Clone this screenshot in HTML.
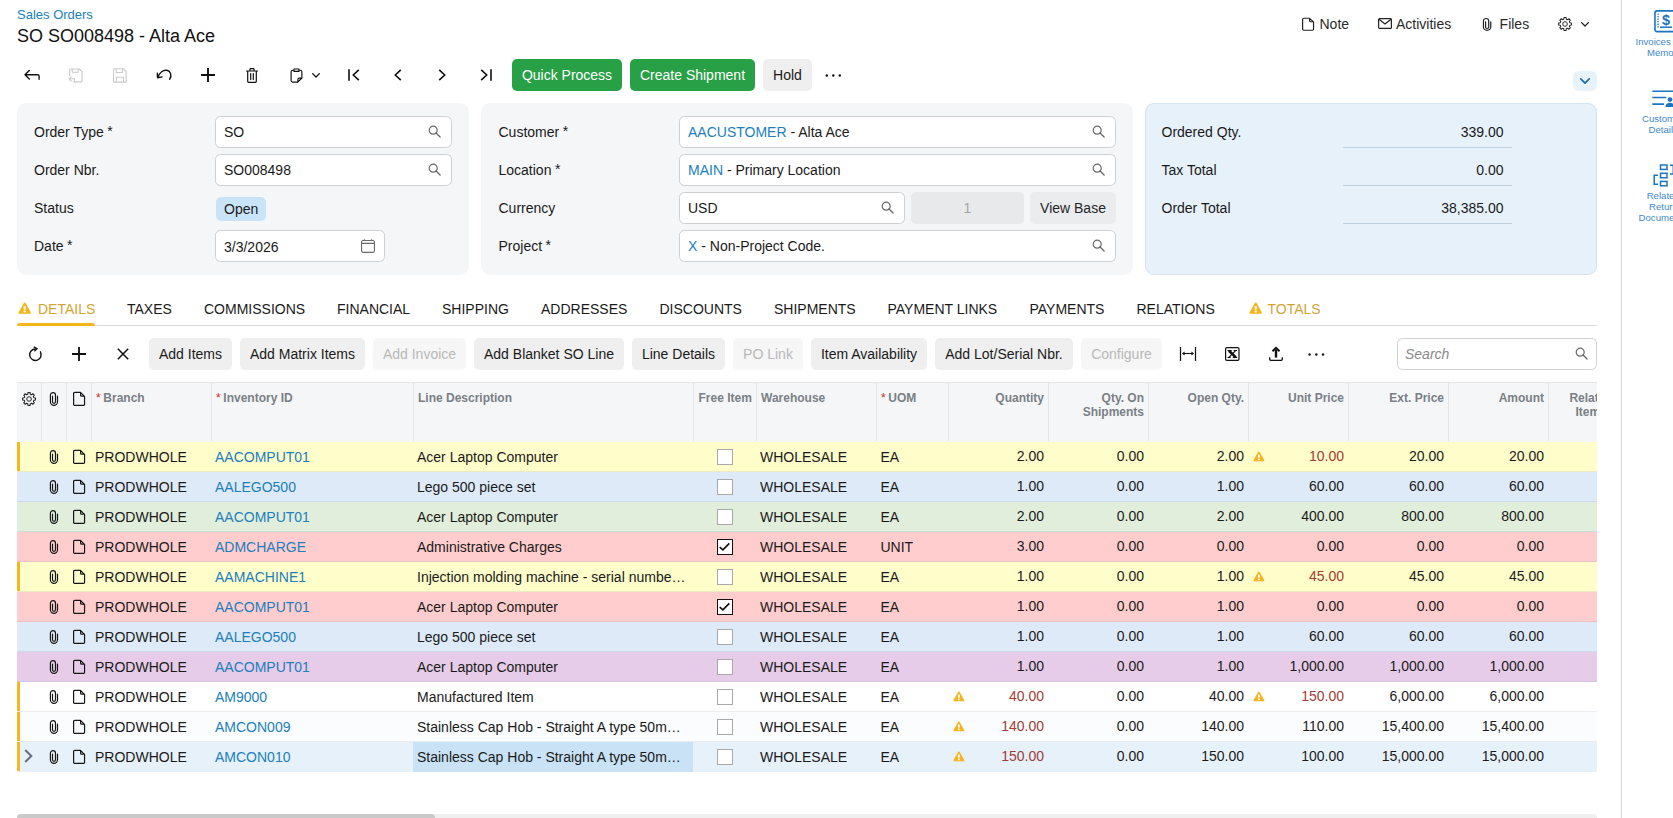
<!DOCTYPE html>
<html><head><meta charset="utf-8"><title>Sales Orders</title>
<style>
*{box-sizing:border-box;margin:0;padding:0}
html,body{width:1673px;height:818px;overflow:hidden;background:#fff}
body{position:relative;font-family:"Liberation Sans",sans-serif;font-size:14px;color:#1a1a1a}
.a{position:absolute;white-space:nowrap}
.ic{position:absolute;overflow:visible}
.t{position:absolute;white-space:nowrap;line-height:16px}
.lnk{color:#207fbc}
.panel{position:absolute;background:#f5f6f8;border-radius:9px}
.inp{position:absolute;background:#fff;border:1px solid #cdd0d4;border-radius:5.500px;height:32px;line-height:30px;padding-left:8px;white-space:nowrap}
.lbl{position:absolute;white-space:nowrap;line-height:16px;color:#1a1a1a}
.btn{position:absolute;height:32px;line-height:32px;border-radius:5px;background:#efefef;text-align:center;white-space:nowrap;color:#1a1a1a}
.btn.g{background:#28a046;color:#fff}
.btn.d{background:#f6f6f6;color:#b9b9b9}
.tab{position:absolute;top:301px;line-height:16px;white-space:nowrap;color:#1a1a1a}
.hd{position:absolute;top:382px;height:60px;background:#f5f6f8;border-top:1px solid #e4e5e7}
.hs{position:absolute;top:383px;height:58px;width:1px;background:#e2e4e7}
.ht{position:absolute;top:391px;font-size:12px;font-weight:bold;color:#7a7f86;line-height:14px;white-space:nowrap}
.ht i{font-style:normal;font-weight:normal;color:#d9261c;margin-right:2.700px}
.row{position:absolute;left:17px;width:1580px;height:30px}
.row:after{content:"";position:absolute;left:0;right:0;bottom:0;height:1px;background:rgba(40,60,120,.085)}
.row.last:after{display:none}
.stripe{position:absolute;left:0;top:0;width:3px;height:29px;background:#f3b71f}
.c{position:absolute;top:0;line-height:30px;white-space:nowrap}
.n{position:absolute;top:-1px;line-height:30px;white-space:nowrap;text-align:right}
.red{color:#9f3c35}
.cb{position:absolute;left:699.5px;top:7px;width:16px;height:16px;background:#fff;border:1px solid #a9a9a9}
.sb{position:absolute;font-size:9.600px;line-height:11px;color:#4189cb;white-space:nowrap}
</style></head><body>

<div class="t lnk" style="left:17px;top:7.200px;font-size:13px">Sales Orders</div>
<div class="t" style="left:17px;top:25px;font-size:18px;line-height:22px;color:#111">SO SO008498 - Alta Ace</div>
<svg class="ic" style="left:1300.900px;top:16.870px" width="14" height="14.650" viewBox="0 0 14 16" preserveAspectRatio="none"><path d="M2.800 1.400H8.500L12.550 5.400V13.200a1.200 1.200 0 0 1-1.200 1.200H2.800a1.200 1.200 0 0 1-1.200-1.200V2.600a1.200 1.200 0 0 1 1.200-1.200zM8.600 1.600V4.200a1 1 0 0 0 1 1H12.400" fill="none" stroke="#222" stroke-width="1.200" stroke-linejoin="round"/></svg>
<div class="t" style="left:1319.500px;top:16px;color:#2a2a2a">Note</div>
<svg class="ic" style="left:1378px;top:18px" width="14" height="11" viewBox="0 0 14 11"><rect x=".6" y=".6" width="12.800" height="9.800" rx="1" fill="none" stroke="#222" stroke-width="1.200"/><path d="M1 1.200l6 4.800 6-4.800" fill="none" stroke="#222" stroke-width="1.200" stroke-linejoin="round"/></svg>
<div class="t" style="left:1396px;top:16px;color:#2a2a2a">Activities</div>
<svg class="ic" style="left:1482.400px;top:16.670px" width="10.300" height="14.960" viewBox="0 0 10 16" preserveAspectRatio="none"><path d="M8.500 5.060V10.750A3.550 3.550 0 0 1 1.400 10.750V4.150A2.550 2.550 0 0 1 6.500 4.150V10.800A1.500 1.500 0 0 1 3.500 10.800V5.060" fill="none" stroke="#222" stroke-width="1.200" stroke-linecap="round"/></svg>
<div class="t" style="left:1499.600px;top:16px;color:#2a2a2a">Files</div>
<svg class="ic" style="left:1557.7px;top:17.1px" width="14" height="14" viewBox="0 0 14 14"><path d="M5.77 2.22L5.99 0.64A6.45 6.45 0 0 1 8.11 0.64L8.33 2.22A4.95 4.95 0 0 1 9.53 2.71L10.80 1.75A6.45 6.45 0 0 1 12.30 3.25L11.34 4.53A4.95 4.95 0 0 1 11.83 5.72L13.41 5.94A6.45 6.45 0 0 1 13.41 8.06L11.83 8.28A4.95 4.95 0 0 1 11.34 9.47L12.30 10.75A6.45 6.45 0 0 1 10.80 12.25L9.53 11.29A4.95 4.95 0 0 1 8.33 11.78L8.11 13.36A6.45 6.45 0 0 1 5.99 13.36L5.77 11.78A4.95 4.95 0 0 1 4.58 11.29L3.30 12.25A6.45 6.45 0 0 1 1.80 10.75L2.76 9.47A4.95 4.95 0 0 1 2.27 8.28L0.69 8.06A6.45 6.45 0 0 1 0.69 5.94L2.27 5.72A4.95 4.95 0 0 1 2.76 4.52L1.80 3.25A6.45 6.45 0 0 1 3.30 1.75L4.57 2.71A4.95 4.95 0 0 1 5.77 2.22z" fill="none" stroke="#2a2a2a" stroke-width="1.1" stroke-linejoin="round"/><circle cx="7.050" cy="7" r="2.300" fill="none" stroke="#2a2a2a" stroke-width="1"/></svg>
<svg class="ic" style="left:1581px;top:22px" width="8" height="5" viewBox="0 0 8 5"><path d="M.6.600L4 4l3.400-3.400" fill="none" stroke="#222" stroke-width="1.300" stroke-linecap="round" stroke-linejoin="round"/></svg>
<div class="a" style="left:1573px;top:71px;width:24px;height:20px;background:#e8f2fa;border-radius:6px"></div>
<svg class="ic" style="left:1580px;top:78px" width="10" height="6" viewBox="0 0 10 6"><path d="M.8.800L5 5.100l4.200-4.300" fill="none" stroke="#1d6ba8" stroke-width="1.700" stroke-linecap="round" stroke-linejoin="round"/></svg>
<svg class="ic" style="left:24px;top:69px" width="16" height="12" viewBox="0 0 16 12"><path d="M5.300 1.400L1 5.700l4.300 4.300M1.200 5.700h12.300a1.600 1.600 0 0 1 1.600 1.600V10.200" fill="none" stroke="#111" stroke-width="1.350" stroke-linecap="round" stroke-linejoin="round"/></svg>
<svg class="ic" style="left:68px;top:68px" width="15" height="15" viewBox="0 0 15 15"><path d="M5.500 13.900H13.200a.8.800 0 0 0 .8-.8V3.700L11.300 1H2.600a.8.800 0 0 0-.8.800V7.500M4.300 1v3.300h5.800V1M1 10.800h5.500M3.200 8.600L1 10.800 3.200 13M6.500 10.800v2" fill="none" stroke="#c9c9c9" stroke-width="1.100" stroke-linejoin="round" stroke-linecap="round"/></svg>
<svg class="ic" style="left:113px;top:68px" width="14" height="15" viewBox="0 0 14 15"><path d="M1.300.800H10.500L13.200 3.500V13.400a.7.700 0 0 1-.7.700H1.300a.7.700 0 0 1-.7-.7V1.500a.7.700 0 0 1 .7-.7zM3.300 1v3.500h6V1M3.300 14V9.300h7.200V14" fill="none" stroke="#c9c9c9" stroke-width="1.100" stroke-linejoin="round"/></svg>
<svg class="ic" style="left:156px;top:68px" width="17" height="13" viewBox="0 0 17 13"><path d="M1.300 5.300L1.600 9.800 6 8.900M2 9.300C3.600 4.300 7.200 1.700 10.800 2.300 14.600 3 16.300 7.500 13.600 11.300" fill="none" stroke="#111" stroke-width="1.400" stroke-linecap="round" stroke-linejoin="round"/></svg>
<svg class="ic" style="left:201px;top:68px" width="14" height="14" viewBox="0 0 14 14"><path d="M7 0v14M0 7h14" stroke="#111" stroke-width="1.900"/></svg>
<svg class="ic" style="left:246px;top:68px" width="12" height="15" viewBox="0 0 12 15"><path d="M.5 3h11M4 2.800V1.300a.6.600 0 0 1 .6-.6h2.800a.6.600 0 0 1 .6.600V2.800M1.700 3.200v10a1.200 1.200 0 0 0 1.200 1.200h6.200a1.200 1.200 0 0 0 1.200-1.200v-10M4.700 5.600v6M7.300 5.600v6" fill="none" stroke="#111" stroke-width="1.200" stroke-linecap="round" stroke-linejoin="round"/></svg>
<svg class="ic" style="left:290px;top:68px" width="13" height="15" viewBox="0 0 13 15"><path d="M3.800 2.200H2.600A1.500 1.500 0 0 0 1.100 3.700v8.900a1.500 1.500 0 0 0 1.500 1.500h5.200l4.100-4.100V3.700a1.500 1.500 0 0 0-1.500-1.500H9.200M4 1h5v2.400H4zM7.900 14v-2.600a1.300 1.300 0 0 1 1.300-1.300h2.600" fill="none" stroke="#111" stroke-width="1.150" stroke-linejoin="round"/></svg>
<svg class="ic" style="left:312px;top:73px" width="8" height="5" viewBox="0 0 8 5"><path d="M.6.600L4 4l3.400-3.400" fill="none" stroke="#111" stroke-width="1.300" stroke-linecap="round" stroke-linejoin="round"/></svg>
<svg class="ic" style="left:348px;top:69px" width="12" height="12" viewBox="0 0 12 12"><path d="M1 .3v11.400M10.800.8L5.300 6l5.500 5.200" fill="none" stroke="#111" stroke-width="1.600" stroke-linejoin="miter"/></svg>
<svg class="ic" style="left:394px;top:69px" width="8" height="12" viewBox="0 0 8 12"><path d="M6.800.8L1.300 6l5.500 5.200" fill="none" stroke="#111" stroke-width="1.600"/></svg>
<svg class="ic" style="left:438px;top:69px" width="8" height="12" viewBox="0 0 8 12"><path d="M1.200.8L6.700 6l-5.500 5.200" fill="none" stroke="#111" stroke-width="1.600"/></svg>
<svg class="ic" style="left:480px;top:69px" width="12" height="12" viewBox="0 0 12 12"><path d="M11 .3v11.400M1.200.8L6.700 6l-5.500 5.200" fill="none" stroke="#111" stroke-width="1.600"/></svg>
<div class="btn g" style="left:512px;top:59px;width:110px">Quick Process</div>
<div class="btn g" style="left:630px;top:59px;width:125px">Create Shipment</div>
<div class="btn" style="left:763px;top:59px;width:49px">Hold</div>
<svg class="ic" style="left:825px;top:74px" width="17" height="3" viewBox="0 0 17 3"><circle cx="1.800" cy="1.500" r="1.200" fill="#111"/><circle cx="8.300" cy="1.500" r="1.200" fill="#111"/><circle cx="14.800" cy="1.500" r="1.200" fill="#111"/></svg>
<div class="panel" style="left:17px;top:103px;width:452px;height:172px"></div>
<div class="panel" style="left:481px;top:103px;width:652px;height:172px"></div>
<div class="panel" style="left:1145px;top:103px;width:452px;height:172px;background:#e6f1fa;border:1px solid #d3e4f2"></div>
<div class="lbl" style="left:34px;top:124px">Order Type <span style="position:relative;top:-1.500px;left:-.4px">*</span></div>
<div class="lbl" style="left:34px;top:162px">Order Nbr.</div>
<div class="lbl" style="left:34px;top:200px">Status</div>
<div class="lbl" style="left:34px;top:238px">Date <span style="position:relative;top:-1.500px;left:-.4px">*</span></div>
<div class="inp" style="left:215px;top:116px;width:237px">SO</div>
<svg class="ic" style="left:428.3px;top:125.2px" width="14" height="14" viewBox="0 0 14 14"><circle cx="5.200" cy="5.200" r="4" fill="none" stroke="#6a6a6a" stroke-width="1.200"/><path d="M8.100 8.100l4 4" stroke="#6a6a6a" stroke-width="1.350" stroke-linecap="round"/></svg>
<div class="inp" style="left:215px;top:154px;width:237px">SO008498</div>
<svg class="ic" style="left:428.3px;top:163.2px" width="14" height="14" viewBox="0 0 14 14"><circle cx="5.200" cy="5.200" r="4" fill="none" stroke="#6a6a6a" stroke-width="1.200"/><path d="M8.100 8.100l4 4" stroke="#6a6a6a" stroke-width="1.350" stroke-linecap="round"/></svg>
<div class="a" style="left:216px;top:197px;width:50px;height:24px;line-height:24px;background:#c9e4f8;border-radius:5px;padding-left:8px">Open</div>
<div class="inp" style="left:215px;top:230px;width:170px;line-height:32px">3/3/2026</div>
<svg class="ic" style="left:361px;top:239px" width="14" height="14" viewBox="0 0 14 14"><rect x=".55" y="1.500" width="12.900" height="11.900" rx="1.600" fill="none" stroke="#686868" stroke-width="1.100"/><path d="M.8 4.400h12.400M3.500 .2v1.300M10.500 .2v1.300" stroke="#686868" stroke-width="1.100" fill="none"/></svg>
<div class="lbl" style="left:498.5px;top:124px">Customer <span style="position:relative;top:-1.500px;left:-.4px">*</span></div>
<div class="lbl" style="left:498.5px;top:162px">Location <span style="position:relative;top:-1.500px;left:-.4px">*</span></div>
<div class="lbl" style="left:498.5px;top:200px">Currency</div>
<div class="lbl" style="left:498.5px;top:238px">Project <span style="position:relative;top:-1.500px;left:-.4px">*</span></div>
<div class="inp" style="left:679px;top:116px;width:437px"><span class="lnk">AACUSTOMER</span> - Alta Ace</div>
<svg class="ic" style="left:1092.3px;top:125.2px" width="14" height="14" viewBox="0 0 14 14"><circle cx="5.200" cy="5.200" r="4" fill="none" stroke="#6a6a6a" stroke-width="1.200"/><path d="M8.100 8.100l4 4" stroke="#6a6a6a" stroke-width="1.350" stroke-linecap="round"/></svg>
<div class="inp" style="left:679px;top:154px;width:437px"><span class="lnk">MAIN</span> - Primary Location</div>
<svg class="ic" style="left:1092.3px;top:163.2px" width="14" height="14" viewBox="0 0 14 14"><circle cx="5.200" cy="5.200" r="4" fill="none" stroke="#6a6a6a" stroke-width="1.200"/><path d="M8.100 8.100l4 4" stroke="#6a6a6a" stroke-width="1.350" stroke-linecap="round"/></svg>
<div class="inp" style="left:679px;top:192px;width:226px">USD</div>
<svg class="ic" style="left:881.3px;top:201.2px" width="14" height="14" viewBox="0 0 14 14"><circle cx="5.200" cy="5.200" r="4" fill="none" stroke="#6a6a6a" stroke-width="1.200"/><path d="M8.100 8.100l4 4" stroke="#6a6a6a" stroke-width="1.350" stroke-linecap="round"/></svg>
<div class="a" style="left:911px;top:192px;width:113px;height:32px;line-height:32px;background:#e8e9ea;border-radius:5px;text-align:center;color:#a4a4a4">1</div>
<div class="btn" style="left:1030px;top:192px;width:86px;background:#ebecee;color:#262626">View Base</div>
<div class="inp" style="left:679px;top:230px;width:437px"><span class="lnk">X</span> - Non-Project Code.</div>
<svg class="ic" style="left:1092.3px;top:239.2px" width="14" height="14" viewBox="0 0 14 14"><circle cx="5.200" cy="5.200" r="4" fill="none" stroke="#6a6a6a" stroke-width="1.200"/><path d="M8.100 8.100l4 4" stroke="#6a6a6a" stroke-width="1.350" stroke-linecap="round"/></svg>
<div class="lbl" style="left:1161.5px;top:124px">Ordered Qty.</div>
<div class="lbl" style="left:1343px;top:124px;width:160.500px;text-align:right">339.00</div>
<div class="a" style="left:1343px;top:147px;width:169px;height:1px;background:#bfd0de"></div>
<div class="lbl" style="left:1161.5px;top:162px">Tax Total</div>
<div class="lbl" style="left:1343px;top:162px;width:160.500px;text-align:right">0.00</div>
<div class="a" style="left:1343px;top:185px;width:169px;height:1px;background:#bfd0de"></div>
<div class="lbl" style="left:1161.5px;top:200px">Order Total</div>
<div class="lbl" style="left:1343px;top:200px;width:160.500px;text-align:right">38,385.00</div>
<div class="a" style="left:1343px;top:223px;width:169px;height:1px;background:#bfd0de"></div>
<div class="a" style="left:17px;top:325px;width:1580px;height:1px;background:#dcdcdc"></div>
<div class="a" style="left:17px;top:323px;width:78px;height:3px;background:#f3b41c;border-radius:3px 3px 0 0"></div>
<svg class="ic" style="left:18.2px;top:301.8px" width="13.4" height="12.3" viewBox="0 0 12 11"><path d="M6 .4c.35 0 .6.2.8.5l4.6 8.2c.35.65-.1 1.4-.8 1.4H1.400c-.7 0-1.150-.75-.8-1.400L5.200.900c.2-.3.45-.5.8-.5z" fill="#f5b31c"/><rect x="5.050" y="3.600" width="1.900" height="3.200" rx=".4" fill="#fff"/><rect x="5.050" y="7.600" width="1.900" height="1.700" rx=".5" fill="#fff"/></svg>
<div class="tab" style="left:38px;color:#d3a433">DETAILS</div>
<div class="tab" style="left:127px">TAXES</div>
<div class="tab" style="left:204px">COMMISSIONS</div>
<div class="tab" style="left:337px">FINANCIAL</div>
<div class="tab" style="left:442px">SHIPPING</div>
<div class="tab" style="left:541px">ADDRESSES</div>
<div class="tab" style="left:659.5px">DISCOUNTS</div>
<div class="tab" style="left:774px">SHIPMENTS</div>
<div class="tab" style="left:887.5px">PAYMENT LINKS</div>
<div class="tab" style="left:1029.5px">PAYMENTS</div>
<div class="tab" style="left:1136.5px">RELATIONS</div>
<svg class="ic" style="left:1248.7px;top:301.8px" width="13.4" height="12.3" viewBox="0 0 12 11"><path d="M6 .4c.35 0 .6.2.8.5l4.6 8.2c.35.65-.1 1.4-.8 1.4H1.400c-.7 0-1.150-.75-.8-1.400L5.200.900c.2-.3.45-.5.8-.5z" fill="#f5b31c"/><rect x="5.050" y="3.600" width="1.900" height="3.200" rx=".4" fill="#fff"/><rect x="5.050" y="7.600" width="1.900" height="1.700" rx=".5" fill="#fff"/></svg>
<div class="tab" style="left:1267.500px;color:#d3a433">TOTALS</div>
<svg class="ic" style="left:28px;top:346px" width="15" height="16" viewBox="0 0 15 16"><path d="M12.380 5.830A5.750 5.750 0 1 1 7.400 2.950" fill="none" stroke="#111" stroke-width="1.400" stroke-linecap="round"/><path d="M5.700 .9L9 2.600 6.400 5.300" fill="none" stroke="#111" stroke-width="1.350" stroke-linejoin="miter"/></svg>
<svg class="ic" style="left:72px;top:347px" width="14" height="14" viewBox="0 0 14 14"><path d="M7 0v14M0 7h14" stroke="#111" stroke-width="1.850"/></svg>
<svg class="ic" style="left:117px;top:348px" width="12" height="12" viewBox="0 0 12 12"><path d="M.8.800l10.400 10.400M11.200.800L.800 11.200" stroke="#111" stroke-width="1.500"/></svg>
<div class="btn" style="left:149px;top:338px;width:83px">Add Items</div>
<div class="btn" style="left:240px;top:338px;width:125px">Add Matrix Items</div>
<div class="btn d" style="left:373px;top:338px;width:93px">Add Invoice</div>
<div class="btn" style="left:474px;top:338px;width:150px">Add Blanket SO Line</div>
<div class="btn" style="left:632px;top:338px;width:93px">Line Details</div>
<div class="btn d" style="left:733px;top:338px;width:70px">PO Link</div>
<div class="btn" style="left:811px;top:338px;width:116px">Item Availability</div>
<div class="btn" style="left:935px;top:338px;width:138px">Add Lot/Serial Nbr.</div>
<div class="btn d" style="left:1081px;top:338px;width:81px">Configure</div>
<svg class="ic" style="left:1179px;top:347px" width="18" height="14" viewBox="0 0 18 14"><path d="M1.500 0v14M16.500 0v14" stroke="#111" stroke-width="1.250"/><path d="M4 6.500h10" stroke="#111" stroke-width="1.100"/><path d="M3 6.500l2.600-2v4zM15 6.500l-2.600-2v4z" fill="#111"/></svg>
<svg class="ic" style="left:1224.500px;top:347px" width="15" height="14" viewBox="0 0 15 14"><rect x=".6" y=".6" width="13.400" height="12.800" rx="1.300" fill="none" stroke="#111" stroke-width="1.200"/><path d="M4 3.700L10.800 10.400" stroke="#111" stroke-width="2.600"/><path d="M10.600 3.700L3.900 10.400" stroke="#111" stroke-width="1.200"/><path d="M2.500 3.550h4.200M8.700 3.550h3.300M2.500 10.550h3.300M7.800 10.550h4.300" stroke="#111" stroke-width="1.100"/></svg>
<svg class="ic" style="left:1269px;top:347px" width="14" height="14" viewBox="0 0 14 14"><path d="M.7 10.200v2.100a1 1 0 0 0 1 1h10.600a1 1 0 0 0 1-1v-2.100" fill="none" stroke="#111" stroke-width="1.300"/><path d="M7 10.600V2.500" stroke="#111" stroke-width="2.400"/><path d="M3.500 4.300L7 .8l3.500 3.500" fill="none" stroke="#111" stroke-width="2" stroke-linejoin="miter"/></svg>
<svg class="ic" style="left:1307.500px;top:353px" width="17" height="3" viewBox="0 0 17 3"><circle cx="1.600" cy="1.500" r="1.200" fill="#111"/><circle cx="8.300" cy="1.500" r="1.200" fill="#111"/><circle cx="15" cy="1.500" r="1.200" fill="#111"/></svg>
<div class="inp" style="left:1397px;top:338px;width:200px;color:#8a8a8a;font-style:italic;padding-left:7px">Search</div>
<svg class="ic" style="left:1575.3px;top:347.2px" width="14" height="14" viewBox="0 0 14 14"><circle cx="5.200" cy="5.200" r="4" fill="none" stroke="#6a6a6a" stroke-width="1.200"/><path d="M8.100 8.100l4 4" stroke="#6a6a6a" stroke-width="1.350" stroke-linecap="round"/></svg>
<div class="hd" style="left:17px;width:1580px"></div>
<div class="hs" style="left:41px"></div>
<div class="hs" style="left:66px"></div>
<div class="hs" style="left:91px"></div>
<div class="hs" style="left:211px"></div>
<div class="hs" style="left:413px"></div>
<div class="hs" style="left:693px"></div>
<div class="hs" style="left:756px"></div>
<div class="hs" style="left:876px"></div>
<div class="hs" style="left:948px"></div>
<div class="hs" style="left:1048px"></div>
<div class="hs" style="left:1148px"></div>
<div class="hs" style="left:1248px"></div>
<div class="hs" style="left:1348px"></div>
<div class="hs" style="left:1448px"></div>
<div class="hs" style="left:1548px"></div>
<svg class="ic" style="left:21.9px;top:391.95px" width="14" height="14" viewBox="0 0 14 14"><path d="M5.77 2.22L5.99 0.64A6.45 6.45 0 0 1 8.11 0.64L8.33 2.22A4.95 4.95 0 0 1 9.53 2.71L10.80 1.75A6.45 6.45 0 0 1 12.30 3.25L11.34 4.53A4.95 4.95 0 0 1 11.83 5.72L13.41 5.94A6.45 6.45 0 0 1 13.41 8.06L11.83 8.28A4.95 4.95 0 0 1 11.34 9.47L12.30 10.75A6.45 6.45 0 0 1 10.80 12.25L9.53 11.29A4.95 4.95 0 0 1 8.33 11.78L8.11 13.36A6.45 6.45 0 0 1 5.99 13.36L5.77 11.78A4.95 4.95 0 0 1 4.58 11.29L3.30 12.25A6.45 6.45 0 0 1 1.80 10.75L2.76 9.47A4.95 4.95 0 0 1 2.27 8.28L0.69 8.06A6.45 6.45 0 0 1 0.69 5.94L2.27 5.72A4.95 4.95 0 0 1 2.76 4.52L1.80 3.25A6.45 6.45 0 0 1 3.30 1.75L4.57 2.71A4.95 4.95 0 0 1 5.77 2.22z" fill="none" stroke="#222" stroke-width="1.1" stroke-linejoin="round"/><circle cx="7.050" cy="7" r="2.300" fill="none" stroke="#222" stroke-width="1"/></svg>
<svg class="ic" style="left:49px;top:391px" width="10" height="16" viewBox="0 0 10 16"><path d="M8.500 5.060V10.750A3.550 3.550 0 0 1 1.400 10.750V4.150A2.550 2.550 0 0 1 6.500 4.150V10.800A1.500 1.500 0 0 1 3.500 10.800V5.060" fill="none" stroke="#161616" stroke-width="1.200" stroke-linecap="round"/></svg>
<svg class="ic" style="left:72px;top:391.2px" width="14" height="16" viewBox="0 0 14 16"><path d="M2.800 1.400H8.500L12.550 5.400V13.200a1.200 1.200 0 0 1-1.200 1.200H2.800a1.200 1.200 0 0 1-1.200-1.200V2.600a1.200 1.200 0 0 1 1.200-1.200zM8.600 1.600V4.200a1 1 0 0 0 1 1H12.400" fill="none" stroke="#161616" stroke-width="1.200" stroke-linejoin="round"/></svg>
<div class="ht" style="left:96px"><i>*</i>Branch</div>
<div class="ht" style="left:216px"><i>*</i>Inventory ID</div>
<div class="ht" style="left:418px">Line Description</div>
<div class="ht" style="left:698.5px">Free Item</div>
<div class="ht" style="left:761px">Warehouse</div>
<div class="ht" style="left:881px"><i>*</i>UOM</div>
<div class="ht" style="left:944px;width:100px;text-align:right">Quantity</div>
<div class="ht" style="left:1044px;width:100px;text-align:right">Qty. On<br>Shipments</div>
<div class="ht" style="left:1144px;width:100px;text-align:right">Open Qty.</div>
<div class="ht" style="left:1244px;width:100px;text-align:right">Unit Price</div>
<div class="ht" style="left:1344px;width:100px;text-align:right">Ext. Price</div>
<div class="ht" style="left:1444px;width:100px;text-align:right">Amount</div>
<div class="a" style="left:1549px;top:382px;width:48px;height:60px;overflow:hidden"><div class="ht" style="left:-7.900px;top:9px;width:100px;text-align:center">Related<br>Items</div></div>
<div class="row" style="top:442px;background:#fffdca">
<div class="stripe"></div>
<svg class="ic" style="left:32px;top:7px" width="10" height="16" viewBox="0 0 10 16"><path d="M8.500 5.060V10.750A3.550 3.550 0 0 1 1.400 10.750V4.150A2.550 2.550 0 0 1 6.500 4.150V10.800A1.500 1.500 0 0 1 3.500 10.800V5.060" fill="none" stroke="#161616" stroke-width="1.200" stroke-linecap="round"/></svg>
<svg class="ic" style="left:55px;top:7px" width="14" height="16" viewBox="0 0 14 16"><path d="M2.800 1.400H8.500L12.550 5.400V13.200a1.200 1.200 0 0 1-1.200 1.200H2.800a1.200 1.200 0 0 1-1.200-1.200V2.600a1.200 1.200 0 0 1 1.200-1.200zM8.600 1.600V4.200a1 1 0 0 0 1 1H12.400" fill="none" stroke="#161616" stroke-width="1.200" stroke-linejoin="round"/></svg>
<div class="c" style="left:78px">PRODWHOLE</div>
<div class="c lnk" style="left:198px">AACOMPUT01</div>
<div class="c" style="left:400px">Acer Laptop Computer</div>
<div class="cb"></div>
<div class="c" style="left:743px">WHOLESALE</div>
<div class="c" style="left:863.500px">EA</div>
<div class="n" style="left:931px;width:96px">2.00</div>
<div class="n" style="left:1031px;width:96px">0.00</div>
<div class="n" style="left:1131px;width:96px">2.00</div>
<svg class="ic" style="left:1236.2px;top:9.2px" width="11.8" height="10.9" viewBox="0 0 12 11"><path d="M6 .4c.35 0 .6.2.8.5l4.6 8.2c.35.65-.1 1.4-.8 1.4H1.400c-.7 0-1.150-.75-.8-1.400L5.200.900c.2-.3.45-.5.8-.5z" fill="#f9b31e"/><rect x="5.050" y="3.600" width="1.900" height="3.200" rx=".4" fill="#fff"/><rect x="5.050" y="7.600" width="1.900" height="1.700" rx=".5" fill="#fff"/></svg>
<div class="n red" style="left:1231px;width:96px">10.00</div>
<div class="n" style="left:1331px;width:96px">20.00</div>
<div class="n" style="left:1431px;width:96px">20.00</div>
</div>
<div class="row" style="top:472px;background:#deeaf7">
<svg class="ic" style="left:32px;top:7px" width="10" height="16" viewBox="0 0 10 16"><path d="M8.500 5.060V10.750A3.550 3.550 0 0 1 1.400 10.750V4.150A2.550 2.550 0 0 1 6.500 4.150V10.800A1.500 1.500 0 0 1 3.500 10.800V5.060" fill="none" stroke="#161616" stroke-width="1.200" stroke-linecap="round"/></svg>
<svg class="ic" style="left:55px;top:7px" width="14" height="16" viewBox="0 0 14 16"><path d="M2.800 1.400H8.500L12.550 5.400V13.200a1.200 1.200 0 0 1-1.200 1.200H2.800a1.200 1.200 0 0 1-1.200-1.200V2.600a1.200 1.200 0 0 1 1.200-1.200zM8.600 1.600V4.200a1 1 0 0 0 1 1H12.400" fill="none" stroke="#161616" stroke-width="1.200" stroke-linejoin="round"/></svg>
<div class="c" style="left:78px">PRODWHOLE</div>
<div class="c lnk" style="left:198px">AALEGO500</div>
<div class="c" style="left:400px">Lego 500 piece set</div>
<div class="cb"></div>
<div class="c" style="left:743px">WHOLESALE</div>
<div class="c" style="left:863.500px">EA</div>
<div class="n" style="left:931px;width:96px">1.00</div>
<div class="n" style="left:1031px;width:96px">0.00</div>
<div class="n" style="left:1131px;width:96px">1.00</div>
<div class="n" style="left:1231px;width:96px">60.00</div>
<div class="n" style="left:1331px;width:96px">60.00</div>
<div class="n" style="left:1431px;width:96px">60.00</div>
</div>
<div class="row" style="top:502px;background:#e1eedc">
<svg class="ic" style="left:32px;top:7px" width="10" height="16" viewBox="0 0 10 16"><path d="M8.500 5.060V10.750A3.550 3.550 0 0 1 1.400 10.750V4.150A2.550 2.550 0 0 1 6.500 4.150V10.800A1.500 1.500 0 0 1 3.500 10.800V5.060" fill="none" stroke="#161616" stroke-width="1.200" stroke-linecap="round"/></svg>
<svg class="ic" style="left:55px;top:7px" width="14" height="16" viewBox="0 0 14 16"><path d="M2.800 1.400H8.500L12.550 5.400V13.200a1.200 1.200 0 0 1-1.200 1.200H2.800a1.200 1.200 0 0 1-1.200-1.200V2.600a1.200 1.200 0 0 1 1.200-1.200zM8.600 1.600V4.200a1 1 0 0 0 1 1H12.400" fill="none" stroke="#161616" stroke-width="1.200" stroke-linejoin="round"/></svg>
<div class="c" style="left:78px">PRODWHOLE</div>
<div class="c lnk" style="left:198px">AACOMPUT01</div>
<div class="c" style="left:400px">Acer Laptop Computer</div>
<div class="cb"></div>
<div class="c" style="left:743px">WHOLESALE</div>
<div class="c" style="left:863.500px">EA</div>
<div class="n" style="left:931px;width:96px">2.00</div>
<div class="n" style="left:1031px;width:96px">0.00</div>
<div class="n" style="left:1131px;width:96px">2.00</div>
<div class="n" style="left:1231px;width:96px">400.00</div>
<div class="n" style="left:1331px;width:96px">800.00</div>
<div class="n" style="left:1431px;width:96px">800.00</div>
</div>
<div class="row" style="top:532px;background:#ffcdcd">
<svg class="ic" style="left:32px;top:7px" width="10" height="16" viewBox="0 0 10 16"><path d="M8.500 5.060V10.750A3.550 3.550 0 0 1 1.400 10.750V4.150A2.550 2.550 0 0 1 6.500 4.150V10.800A1.500 1.500 0 0 1 3.500 10.800V5.060" fill="none" stroke="#161616" stroke-width="1.200" stroke-linecap="round"/></svg>
<svg class="ic" style="left:55px;top:7px" width="14" height="16" viewBox="0 0 14 16"><path d="M2.800 1.400H8.500L12.550 5.400V13.200a1.200 1.200 0 0 1-1.200 1.200H2.800a1.200 1.200 0 0 1-1.200-1.200V2.600a1.200 1.200 0 0 1 1.200-1.200zM8.600 1.600V4.200a1 1 0 0 0 1 1H12.400" fill="none" stroke="#161616" stroke-width="1.200" stroke-linejoin="round"/></svg>
<div class="c" style="left:78px">PRODWHOLE</div>
<div class="c lnk" style="left:198px">ADMCHARGE</div>
<div class="c" style="left:400px">Administrative Charges</div>
<div class="cb" style="border:1.300px solid #161010"><svg style="position:absolute;left:1px;top:1px;overflow:visible" width="12" height="12" viewBox="0 0 12 12"><path d="M.7 6.100L3.900 8.900 10.300 2.400" fill="none" stroke="#111" stroke-width="1.650"/></svg></div>
<div class="c" style="left:743px">WHOLESALE</div>
<div class="c" style="left:863.500px">UNIT</div>
<div class="n" style="left:931px;width:96px">3.00</div>
<div class="n" style="left:1031px;width:96px">0.00</div>
<div class="n" style="left:1131px;width:96px">0.00</div>
<div class="n" style="left:1231px;width:96px">0.00</div>
<div class="n" style="left:1331px;width:96px">0.00</div>
<div class="n" style="left:1431px;width:96px">0.00</div>
</div>
<div class="row" style="top:562px;background:#fffdca">
<div class="stripe"></div>
<svg class="ic" style="left:32px;top:7px" width="10" height="16" viewBox="0 0 10 16"><path d="M8.500 5.060V10.750A3.550 3.550 0 0 1 1.400 10.750V4.150A2.550 2.550 0 0 1 6.500 4.150V10.800A1.500 1.500 0 0 1 3.500 10.800V5.060" fill="none" stroke="#161616" stroke-width="1.200" stroke-linecap="round"/></svg>
<svg class="ic" style="left:55px;top:7px" width="14" height="16" viewBox="0 0 14 16"><path d="M2.800 1.400H8.500L12.550 5.400V13.200a1.200 1.200 0 0 1-1.200 1.200H2.800a1.200 1.200 0 0 1-1.200-1.200V2.600a1.200 1.200 0 0 1 1.200-1.200zM8.600 1.600V4.200a1 1 0 0 0 1 1H12.400" fill="none" stroke="#161616" stroke-width="1.200" stroke-linejoin="round"/></svg>
<div class="c" style="left:78px">PRODWHOLE</div>
<div class="c lnk" style="left:198px">AAMACHINE1</div>
<div class="c" style="left:400px">Injection molding machine - serial numbe…</div>
<div class="cb"></div>
<div class="c" style="left:743px">WHOLESALE</div>
<div class="c" style="left:863.500px">EA</div>
<div class="n" style="left:931px;width:96px">1.00</div>
<div class="n" style="left:1031px;width:96px">0.00</div>
<div class="n" style="left:1131px;width:96px">1.00</div>
<svg class="ic" style="left:1236.2px;top:9.2px" width="11.8" height="10.9" viewBox="0 0 12 11"><path d="M6 .4c.35 0 .6.2.8.5l4.6 8.2c.35.65-.1 1.4-.8 1.4H1.400c-.7 0-1.150-.75-.8-1.400L5.200.900c.2-.3.45-.5.8-.5z" fill="#f9b31e"/><rect x="5.050" y="3.600" width="1.900" height="3.200" rx=".4" fill="#fff"/><rect x="5.050" y="7.600" width="1.900" height="1.700" rx=".5" fill="#fff"/></svg>
<div class="n red" style="left:1231px;width:96px">45.00</div>
<div class="n" style="left:1331px;width:96px">45.00</div>
<div class="n" style="left:1431px;width:96px">45.00</div>
</div>
<div class="row" style="top:592px;background:#ffcdcd">
<svg class="ic" style="left:32px;top:7px" width="10" height="16" viewBox="0 0 10 16"><path d="M8.500 5.060V10.750A3.550 3.550 0 0 1 1.400 10.750V4.150A2.550 2.550 0 0 1 6.500 4.150V10.800A1.500 1.500 0 0 1 3.500 10.800V5.060" fill="none" stroke="#161616" stroke-width="1.200" stroke-linecap="round"/></svg>
<svg class="ic" style="left:55px;top:7px" width="14" height="16" viewBox="0 0 14 16"><path d="M2.800 1.400H8.500L12.550 5.400V13.200a1.200 1.200 0 0 1-1.200 1.200H2.800a1.200 1.200 0 0 1-1.200-1.200V2.600a1.200 1.200 0 0 1 1.200-1.200zM8.600 1.600V4.200a1 1 0 0 0 1 1H12.400" fill="none" stroke="#161616" stroke-width="1.200" stroke-linejoin="round"/></svg>
<div class="c" style="left:78px">PRODWHOLE</div>
<div class="c lnk" style="left:198px">AACOMPUT01</div>
<div class="c" style="left:400px">Acer Laptop Computer</div>
<div class="cb" style="border:1.300px solid #161010"><svg style="position:absolute;left:1px;top:1px;overflow:visible" width="12" height="12" viewBox="0 0 12 12"><path d="M.7 6.100L3.900 8.900 10.300 2.400" fill="none" stroke="#111" stroke-width="1.650"/></svg></div>
<div class="c" style="left:743px">WHOLESALE</div>
<div class="c" style="left:863.500px">EA</div>
<div class="n" style="left:931px;width:96px">1.00</div>
<div class="n" style="left:1031px;width:96px">0.00</div>
<div class="n" style="left:1131px;width:96px">1.00</div>
<div class="n" style="left:1231px;width:96px">0.00</div>
<div class="n" style="left:1331px;width:96px">0.00</div>
<div class="n" style="left:1431px;width:96px">0.00</div>
</div>
<div class="row" style="top:622px;background:#deeaf7">
<svg class="ic" style="left:32px;top:7px" width="10" height="16" viewBox="0 0 10 16"><path d="M8.500 5.060V10.750A3.550 3.550 0 0 1 1.400 10.750V4.150A2.550 2.550 0 0 1 6.500 4.150V10.800A1.500 1.500 0 0 1 3.500 10.800V5.060" fill="none" stroke="#161616" stroke-width="1.200" stroke-linecap="round"/></svg>
<svg class="ic" style="left:55px;top:7px" width="14" height="16" viewBox="0 0 14 16"><path d="M2.800 1.400H8.500L12.550 5.400V13.200a1.200 1.200 0 0 1-1.200 1.200H2.800a1.200 1.200 0 0 1-1.200-1.200V2.600a1.200 1.200 0 0 1 1.200-1.200zM8.600 1.600V4.200a1 1 0 0 0 1 1H12.400" fill="none" stroke="#161616" stroke-width="1.200" stroke-linejoin="round"/></svg>
<div class="c" style="left:78px">PRODWHOLE</div>
<div class="c lnk" style="left:198px">AALEGO500</div>
<div class="c" style="left:400px">Lego 500 piece set</div>
<div class="cb"></div>
<div class="c" style="left:743px">WHOLESALE</div>
<div class="c" style="left:863.500px">EA</div>
<div class="n" style="left:931px;width:96px">1.00</div>
<div class="n" style="left:1031px;width:96px">0.00</div>
<div class="n" style="left:1131px;width:96px">1.00</div>
<div class="n" style="left:1231px;width:96px">60.00</div>
<div class="n" style="left:1331px;width:96px">60.00</div>
<div class="n" style="left:1431px;width:96px">60.00</div>
</div>
<div class="row" style="top:652px;background:#e6cce8">
<svg class="ic" style="left:32px;top:7px" width="10" height="16" viewBox="0 0 10 16"><path d="M8.500 5.060V10.750A3.550 3.550 0 0 1 1.400 10.750V4.150A2.550 2.550 0 0 1 6.500 4.150V10.800A1.500 1.500 0 0 1 3.500 10.800V5.060" fill="none" stroke="#161616" stroke-width="1.200" stroke-linecap="round"/></svg>
<svg class="ic" style="left:55px;top:7px" width="14" height="16" viewBox="0 0 14 16"><path d="M2.800 1.400H8.500L12.550 5.400V13.200a1.200 1.200 0 0 1-1.200 1.200H2.800a1.200 1.200 0 0 1-1.200-1.200V2.600a1.200 1.200 0 0 1 1.200-1.200zM8.600 1.600V4.200a1 1 0 0 0 1 1H12.400" fill="none" stroke="#161616" stroke-width="1.200" stroke-linejoin="round"/></svg>
<div class="c" style="left:78px">PRODWHOLE</div>
<div class="c lnk" style="left:198px">AACOMPUT01</div>
<div class="c" style="left:400px">Acer Laptop Computer</div>
<div class="cb"></div>
<div class="c" style="left:743px">WHOLESALE</div>
<div class="c" style="left:863.500px">EA</div>
<div class="n" style="left:931px;width:96px">1.00</div>
<div class="n" style="left:1031px;width:96px">0.00</div>
<div class="n" style="left:1131px;width:96px">1.00</div>
<div class="n" style="left:1231px;width:96px">1,000.00</div>
<div class="n" style="left:1331px;width:96px">1,000.00</div>
<div class="n" style="left:1431px;width:96px">1,000.00</div>
</div>
<div class="row" style="top:682px;background:#ffffff">
<div class="stripe"></div>
<svg class="ic" style="left:32px;top:7px" width="10" height="16" viewBox="0 0 10 16"><path d="M8.500 5.060V10.750A3.550 3.550 0 0 1 1.400 10.750V4.150A2.550 2.550 0 0 1 6.500 4.150V10.800A1.500 1.500 0 0 1 3.500 10.800V5.060" fill="none" stroke="#161616" stroke-width="1.200" stroke-linecap="round"/></svg>
<svg class="ic" style="left:55px;top:7px" width="14" height="16" viewBox="0 0 14 16"><path d="M2.800 1.400H8.500L12.550 5.400V13.200a1.200 1.200 0 0 1-1.200 1.200H2.800a1.200 1.200 0 0 1-1.200-1.200V2.600a1.200 1.200 0 0 1 1.200-1.200zM8.600 1.600V4.200a1 1 0 0 0 1 1H12.400" fill="none" stroke="#161616" stroke-width="1.200" stroke-linejoin="round"/></svg>
<div class="c" style="left:78px">PRODWHOLE</div>
<div class="c lnk" style="left:198px">AM9000</div>
<div class="c" style="left:400px">Manufactured Item</div>
<div class="cb"></div>
<div class="c" style="left:743px">WHOLESALE</div>
<div class="c" style="left:863.500px">EA</div>
<svg class="ic" style="left:936.2px;top:9.2px" width="11.8" height="10.9" viewBox="0 0 12 11"><path d="M6 .4c.35 0 .6.2.8.5l4.6 8.2c.35.65-.1 1.4-.8 1.4H1.400c-.7 0-1.150-.75-.8-1.400L5.200.900c.2-.3.45-.5.8-.5z" fill="#f9b31e"/><rect x="5.050" y="3.600" width="1.900" height="3.200" rx=".4" fill="#fff"/><rect x="5.050" y="7.600" width="1.900" height="1.700" rx=".5" fill="#fff"/></svg>
<div class="n red" style="left:931px;width:96px">40.00</div>
<div class="n" style="left:1031px;width:96px">0.00</div>
<div class="n" style="left:1131px;width:96px">40.00</div>
<svg class="ic" style="left:1236.2px;top:9.2px" width="11.8" height="10.9" viewBox="0 0 12 11"><path d="M6 .4c.35 0 .6.2.8.5l4.6 8.2c.35.65-.1 1.4-.8 1.4H1.400c-.7 0-1.150-.75-.8-1.400L5.200.900c.2-.3.45-.5.8-.5z" fill="#f9b31e"/><rect x="5.050" y="3.600" width="1.900" height="3.200" rx=".4" fill="#fff"/><rect x="5.050" y="7.600" width="1.900" height="1.700" rx=".5" fill="#fff"/></svg>
<div class="n red" style="left:1231px;width:96px">150.00</div>
<div class="n" style="left:1331px;width:96px">6,000.00</div>
<div class="n" style="left:1431px;width:96px">6,000.00</div>
</div>
<div class="row" style="top:712px;background:#fbfcfe">
<div class="stripe"></div>
<svg class="ic" style="left:32px;top:7px" width="10" height="16" viewBox="0 0 10 16"><path d="M8.500 5.060V10.750A3.550 3.550 0 0 1 1.400 10.750V4.150A2.550 2.550 0 0 1 6.500 4.150V10.800A1.500 1.500 0 0 1 3.500 10.800V5.060" fill="none" stroke="#161616" stroke-width="1.200" stroke-linecap="round"/></svg>
<svg class="ic" style="left:55px;top:7px" width="14" height="16" viewBox="0 0 14 16"><path d="M2.800 1.400H8.500L12.550 5.400V13.200a1.200 1.200 0 0 1-1.200 1.200H2.800a1.200 1.200 0 0 1-1.200-1.200V2.600a1.200 1.200 0 0 1 1.200-1.200zM8.600 1.600V4.200a1 1 0 0 0 1 1H12.400" fill="none" stroke="#161616" stroke-width="1.200" stroke-linejoin="round"/></svg>
<div class="c" style="left:78px">PRODWHOLE</div>
<div class="c lnk" style="left:198px">AMCON009</div>
<div class="c" style="left:400px">Stainless Cap Hob - Straight A type 50m…</div>
<div class="cb"></div>
<div class="c" style="left:743px">WHOLESALE</div>
<div class="c" style="left:863.500px">EA</div>
<svg class="ic" style="left:936.2px;top:9.2px" width="11.8" height="10.9" viewBox="0 0 12 11"><path d="M6 .4c.35 0 .6.2.8.5l4.6 8.2c.35.65-.1 1.4-.8 1.4H1.400c-.7 0-1.150-.75-.8-1.400L5.200.900c.2-.3.45-.5.8-.5z" fill="#f9b31e"/><rect x="5.050" y="3.600" width="1.900" height="3.200" rx=".4" fill="#fff"/><rect x="5.050" y="7.600" width="1.900" height="1.700" rx=".5" fill="#fff"/></svg>
<div class="n red" style="left:931px;width:96px">140.00</div>
<div class="n" style="left:1031px;width:96px">0.00</div>
<div class="n" style="left:1131px;width:96px">140.00</div>
<div class="n" style="left:1231px;width:96px">110.00</div>
<div class="n" style="left:1331px;width:96px">15,400.00</div>
<div class="n" style="left:1431px;width:96px">15,400.00</div>
</div>
<div class="row last" style="top:742px;background:#e6f1fa">
<div class="stripe"></div>
<div class="a" style="left:396px;top:0;width:280px;height:30px;background:#c9e2f6"></div>
<svg class="ic" style="left:7.400px;top:7px" width="10" height="14" viewBox="0 0 10 14"><path d="M1.200 1.100L7.300 7l-6.100 5.900" fill="none" stroke="#6a7084" stroke-width="2.100"/></svg>
<svg class="ic" style="left:32px;top:7px" width="10" height="16" viewBox="0 0 10 16"><path d="M8.500 5.060V10.750A3.550 3.550 0 0 1 1.400 10.750V4.150A2.550 2.550 0 0 1 6.500 4.150V10.800A1.500 1.500 0 0 1 3.500 10.800V5.060" fill="none" stroke="#161616" stroke-width="1.200" stroke-linecap="round"/></svg>
<svg class="ic" style="left:55px;top:7px" width="14" height="16" viewBox="0 0 14 16"><path d="M2.800 1.400H8.500L12.550 5.400V13.200a1.200 1.200 0 0 1-1.200 1.200H2.800a1.200 1.200 0 0 1-1.200-1.200V2.600a1.200 1.200 0 0 1 1.200-1.200zM8.600 1.600V4.200a1 1 0 0 0 1 1H12.400" fill="none" stroke="#161616" stroke-width="1.200" stroke-linejoin="round"/></svg>
<div class="c" style="left:78px">PRODWHOLE</div>
<div class="c lnk" style="left:198px">AMCON010</div>
<div class="c" style="left:400px">Stainless Cap Hob - Straight A type 50m…</div>
<div class="cb"></div>
<div class="c" style="left:743px">WHOLESALE</div>
<div class="c" style="left:863.500px">EA</div>
<svg class="ic" style="left:936.2px;top:9.2px" width="11.8" height="10.9" viewBox="0 0 12 11"><path d="M6 .4c.35 0 .6.2.8.5l4.6 8.2c.35.65-.1 1.4-.8 1.4H1.400c-.7 0-1.150-.75-.8-1.400L5.200.900c.2-.3.45-.5.8-.5z" fill="#f9b31e"/><rect x="5.050" y="3.600" width="1.900" height="3.200" rx=".4" fill="#fff"/><rect x="5.050" y="7.600" width="1.900" height="1.700" rx=".5" fill="#fff"/></svg>
<div class="n red" style="left:931px;width:96px">150.00</div>
<div class="n" style="left:1031px;width:96px">0.00</div>
<div class="n" style="left:1131px;width:96px">150.00</div>
<div class="n" style="left:1231px;width:96px">100.00</div>
<div class="n" style="left:1331px;width:96px">15,000.00</div>
<div class="n" style="left:1431px;width:96px">15,000.00</div>
</div>
<div class="a" style="left:17px;top:814px;width:1580px;height:8px;background:#efefef;border-radius:4px"></div>
<div class="a" style="left:17px;top:814px;width:417.500px;height:8px;background:#c9c9c9;border-radius:4px"></div>
<div class="a" style="left:1621px;top:0;width:1px;height:818px;background:#d6d6d8"></div>
<svg class="ic" style="left:1654px;top:10px" width="24" height="23" viewBox="0 0 24 23"><rect x=".95" y=".85" width="22" height="20.800" rx="2.300" fill="none" stroke="#1c74c0" stroke-width="1.600"/><path d="M4.100 3.400v14.500" stroke="#1c74c0" stroke-width="1.300" stroke-dasharray="1.300 1.250"/><path d="M6 17.200h12" stroke="#1c74c0" stroke-width="1.500"/><text x="12.100" y="14.800" text-anchor="middle" font-family="Liberation Sans,sans-serif" font-weight="bold" font-size="14.500" fill="#1c74c0">$</text></svg>
<div class="sb" style="left:1635.500px;top:35.900px">Invoices and</div>
<div class="sb" style="left:1647px;top:46.900px">Memos</div>
<svg class="ic" style="left:1652px;top:90px" width="24" height="18" viewBox="0 0 24 18"><path d="M.3 1.200h21M.3 7.500h14M.3 14.100h11.700" stroke="#1c74c0" stroke-width="1.600"/><circle cx="18" cy="9.600" r="2.400" fill="#1c74c0"/><path d="M13.300 17c.3-2.800 2.300-4.200 4.700-4.200s4.400 1.400 4.700 4.200z" fill="#1c74c0"/></svg>
<div class="sb" style="left:1642px;top:112.900px">Customer</div>
<div class="sb" style="left:1648.600px;top:123.900px">Details</div>
<svg class="ic" style="left:1653px;top:163px" width="24" height="24" viewBox="0 0 24 24"><rect x="7.500" y="2" width="6.500" height="4.400" fill="none" stroke="#1c74c0" stroke-width="1.500"/><rect x="7.500" y="10.300" width="6.500" height="4.400" fill="none" stroke="#1c74c0" stroke-width="1.500"/><rect x="7.500" y="18.400" width="6.500" height="4.400" fill="none" stroke="#1c74c0" stroke-width="1.500"/><path d="M5 12.200H1.200v9H5M17 2.300h3.300v8.800H17" fill="none" stroke="#1c74c0" stroke-width="1.500"/></svg>
<div class="sb" style="left:1646.700px;top:189.900px">Related</div>
<div class="sb" style="left:1649px;top:200.900px">Return</div>
<div class="sb" style="left:1638.600px;top:211.900px">Documents</div>
</body></html>
